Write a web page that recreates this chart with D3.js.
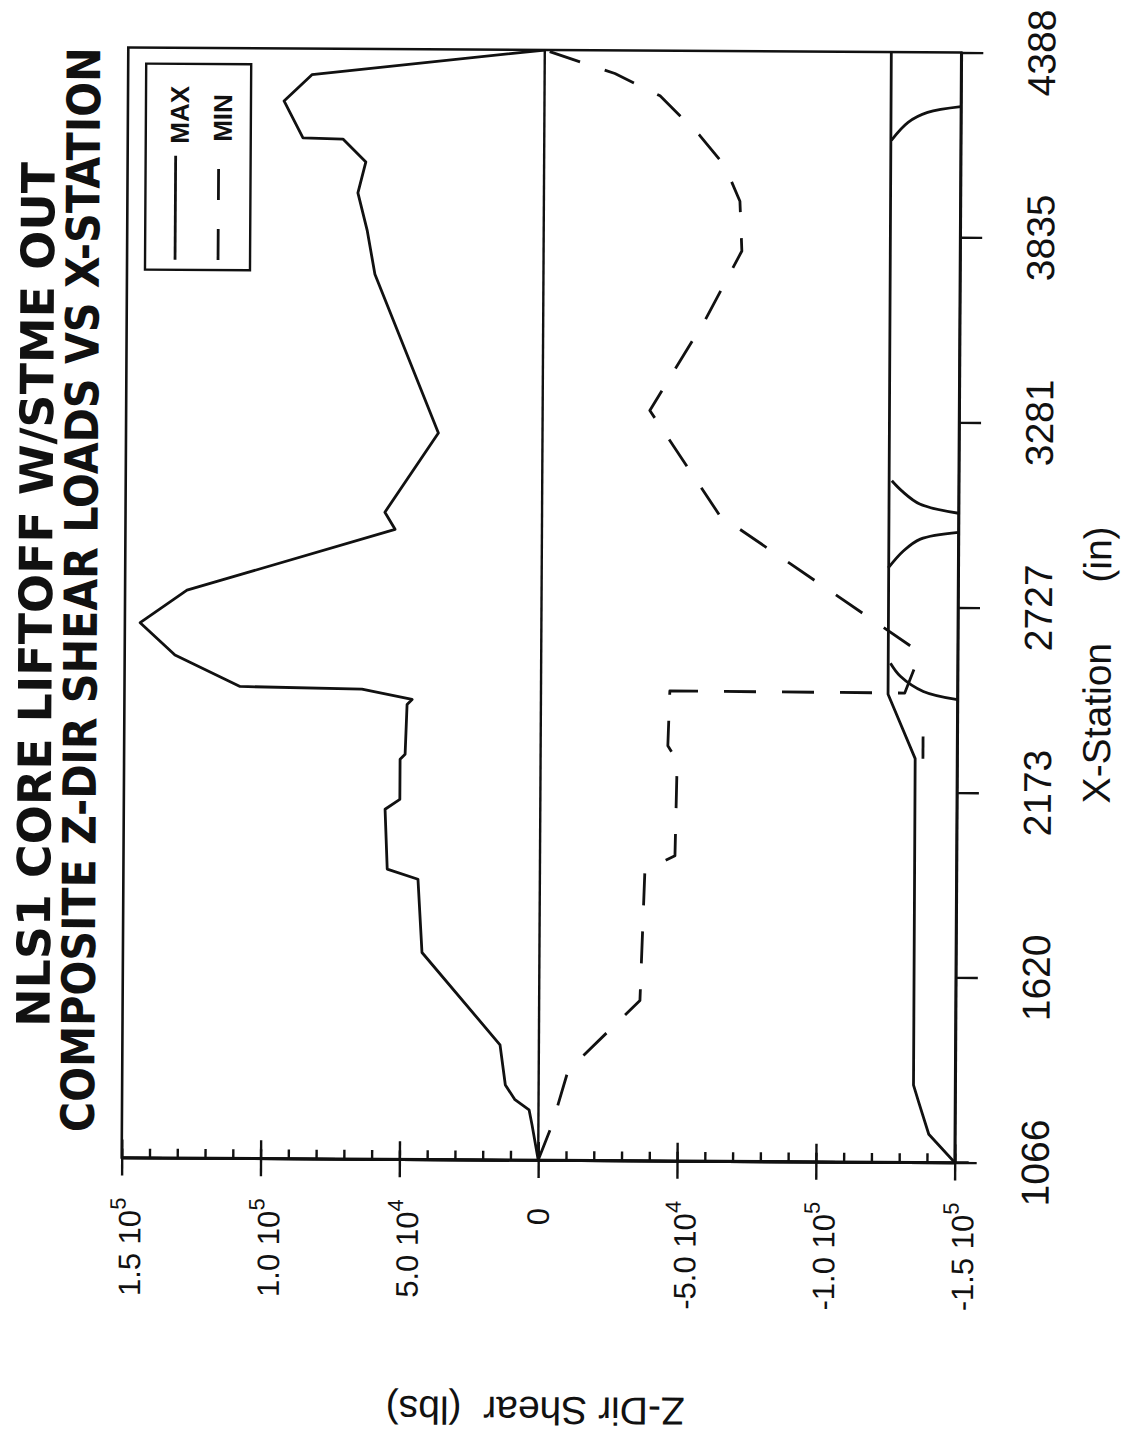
<!DOCTYPE html>
<html><head><meta charset="utf-8">
<script src="https://cdn.jsdelivr.net/npm/d3@7"></script>
<style>body{margin:0;background:#fff}svg{display:block}</style>
</head><body><svg id="c" width="1129" height="1433"></svg>
<script>
// ---- data (station in inches, shear in lbs) ----
const stationTicks = [1066, 1620, 2173, 2727, 3281, 3835, 4388];
const shearTicks = [150000, 100000, 50000, 0, -50000, -100000, -150000];
const shearTickLabels = [["1.5 10","5"],["1.0 10","5"],["5.0 10","4"],["0",""],["-5.0 10","4"],["-1.0 10","5"],["-1.5 10","5"]];
const titleLines = ["NLS1 CORE LIFTOFF W/STME OUT", "COMPOSITE Z-DIR SHEAR LOADS VS X-STATION"];
const legendNames = ["MAX", "MIN"];

const maxStation = [1066,1171,1216,1246,1290,1410,1685,1904,1934,2113,2143,2263,2278,2427,2442,2472,2478,2571,2667,2765,2951,3002,3240,3714,3846,3957,4050,4118,4121,4231,4310,4388];
const maxShear   = [0,2300,3400,8500,12000,14000,42300,43900,55000,55900,50600,50600,48800,48200,46400,64500,108400,131900,144500,127700,52900,56600,37500,60700,63600,67000,64200,72500,86900,93800,83800,0];

const minStation = [1066,1171,1335,1545,1934,1979,2263,2308,2472,2470,2563,2608,2998,3311,3584,3790,3939,4044,4134,4253,4319,4388];
const minShear   = [0,-4900,-10600,-36300,-37800,-48600,-49200,-45800,-46400,-131000,-135300,-133500,-64000,-38600,-58400,-71400,-70600,-65100,-56100,-41600,-25300,0];

const lowStation = [1066,1150,1246,1297,2274,2466,4388];
const lowShear   = [-150000,-140600,-136900,-135000,-134900,-125000,-124800];

const dipAStation = [4124,4178,4208,4226];
const dipAShear   = [-125000,-131000,-138000,-150000];
const dipBStation = [3105,3075,3036,3009];
const dipBShear   = [-125900,-129500,-136000,-150000];
const dipCStation = [2952,2931,2895,2844];
const dipCShear   = [-150000,-136300,-130200,-124800];
const dipDStation = [2559,2520,2475,2451];
const dipDShear   = [-125800,-129400,-137700,-150000];

const lowDashStation = [2274,2340];
const lowDashShear   = [-137700,-137700];

// ---- layout ----
const svg = d3.select('#c');
const g = svg.append('g').attr('transform','rotate(0.34,540,605)');
const x = d3.scaleLinear().domain([150000,-150000]).range([125,958]);
const y = d3.scaleLinear().domain([1066,4388]).range([1160,50]);
const ink = '#111';
const sans = 'Liberation Sans, Arial, Helvetica, sans-serif';

g.append('clipPath').attr('id','clip').append('rect')
  .attr('x',x(150000)).attr('y',y(4388)).attr('width',x(-150000)-x(150000)).attr('height',y(1066)-y(4388));

// frame
g.append('rect').attr('x',x(150000)).attr('y',y(4388))
  .attr('width',x(-150000)-x(150000)).attr('height',y(1066)-y(4388))
  .attr('fill','none').attr('stroke',ink).attr('stroke-width',2.6);

// station axis (right side)
const axR = g.append('g').attr('transform',`translate(${x(-150000)},0)`)
  .call(d3.axisRight(y).tickValues(stationTicks).tickSize(22).tickSizeOuter(0).tickFormat(''));
axR.selectAll('line').attr('stroke',ink).attr('stroke-width',2.4);
axR.select('.domain').attr('stroke',ink).attr('stroke-width',2.6);

// shear axis (bottom)
const bY = y(1066);
const axMinor = g.append('g').attr('transform',`translate(0,${bY})`)
  .call(d3.axisTop(x).tickValues(d3.range(-150000,150001,10000)).tickSize(9).tickSizeOuter(0).tickFormat(''));
const axMajT = g.append('g').attr('transform',`translate(0,${bY})`)
  .call(d3.axisTop(x).tickValues(shearTicks).tickSize(18).tickSizeOuter(0).tickFormat(''));
const axMajB = g.append('g').attr('transform',`translate(0,${bY})`)
  .call(d3.axisBottom(x).tickValues(shearTicks).tickSize(18).tickSizeOuter(0).tickFormat(''));
[axMinor,axMajT,axMajB].forEach(a=>{a.selectAll('line').attr('stroke',ink).attr('stroke-width',2.4);a.select('.domain').attr('stroke',ink).attr('stroke-width',2.6);});
g.append('line').attr('x1',x(-150000)).attr('x2',x(-150000)+14).attr('y1',bY).attr('y2',bY).attr('stroke',ink).attr('stroke-width',2.6);

// zero line
g.append('line').attr('x1',x(0)).attr('x2',x(0)).attr('y1',y(4388)).attr('y2',y(1066)).attr('stroke',ink).attr('stroke-width',2.4);

// series
const line = d3.line().x(d=>x(d[1])).y(d=>y(d[0]));
const smooth = d3.line().x(d=>x(d[1])).y(d=>y(d[0])).curve(d3.curveCatmullRom);
const plot = g.append('g').attr('clip-path','url(#clip)');
function draw(st, sh, dashed, gen){
  plot.append('path').datum(d3.zip(st, sh)).attr('d', gen||line)
    .attr('fill','none').attr('stroke',ink).attr('stroke-width',2.8)
    .attr('stroke-linejoin','round').attr('stroke-linecap','butt')
    .attr('stroke-dasharray', dashed ? '32,26' : null);
}
draw(maxStation, maxShear, false);
draw(minStation, minShear, true);
draw(lowStation, lowShear, false);
draw(dipAStation, dipAShear, false, smooth);
draw(dipBStation, dipBShear, false, smooth);
draw(dipCStation, dipCShear, false, smooth);
draw(dipDStation, dipDShear, false, smooth);
draw(lowDashStation, lowDashShear, true);

// legend
const lg = g.append('g');
lg.append('rect').attr('x',143).attr('y',66).attr('width',105).attr('height',206)
  .attr('fill','#fff').attr('stroke',ink).attr('stroke-width',2.4);
legendNames.forEach((n,i)=>{
  const cx = 173 + i*43;
  lg.append('line').attr('x1',cx).attr('x2',cx).attr('y1',262).attr('y2',158)
    .attr('stroke',ink).attr('stroke-width',2.8).attr('stroke-dasharray', i ? '31,29' : null);
  lg.append('text').attr('transform',`translate(${cx+13},${i?96:88}) rotate(-90)`)
    .attr('text-anchor','end').attr('font-family',sans)
    .attr('font-weight','bold').attr('font-size',26).attr('fill',ink).text(n);
});

// shear tick labels (rotated, reading bottom-to-top, ending near the axis)
shearTicks.forEach((v,i)=>{
  const hasExp = !!shearTickLabels[i][1];
  const t = g.append('text')
    .attr('transform',`translate(${x(v)+(hasExp?19:11)},${hasExp?1200:1208}) rotate(-90)`)
    .attr('font-family',sans).attr('font-size',31).attr('fill',ink)
    .attr('text-anchor','end');
  t.append('tspan').text(shearTickLabels[i][0]);
  if (hasExp) {
    t.append('tspan').attr('dy',-15).attr('font-size',22).text(shearTickLabels[i][1]);
  }
});

// station tick labels
stationTicks.forEach(s=>{
  g.append('text').attr('transform',`translate(1052,${y(s)}) rotate(-90)`)
    .attr('text-anchor','middle').attr('font-family',sans)
    .attr('font-size',39).attr('fill',ink).text(s);
});

// axis titles
g.append('text').attr('transform',`translate(1111,800) rotate(-90)`)
  .attr('font-family',sans).attr('font-size',39).attr('fill',ink).text('X-Station');
g.append('text').attr('transform',`translate(1111,523) rotate(-90)`).attr('text-anchor','end')
  .attr('font-family',sans).attr('font-size',39).attr('fill',ink).text('(in)');
g.append('text').attr('transform',`translate(540,1397) rotate(180)`).attr('text-anchor','middle')
  .attr('font-family',sans).attr('font-size',39).attr('fill',ink)
  .style('white-space','pre').text('Z-Dir Shear  (lbs)');

// title
const tl = [[52,165,1030],[97,50,1135]];
titleLines.forEach((s,i)=>{
  g.append('text').attr('transform',`translate(${tl[i][0]},${tl[i][2]}) rotate(-90)`)
    .attr('font-family','Liberation Sans Narrow, DejaVu Sans Condensed, sans-serif')
    .attr('font-weight','bold').attr('font-size',46).attr('fill',ink)
    .attr('textLength',tl[i][2]-tl[i][1]).attr('lengthAdjust','spacingAndGlyphs').text(s);
});
</script></body></html>
